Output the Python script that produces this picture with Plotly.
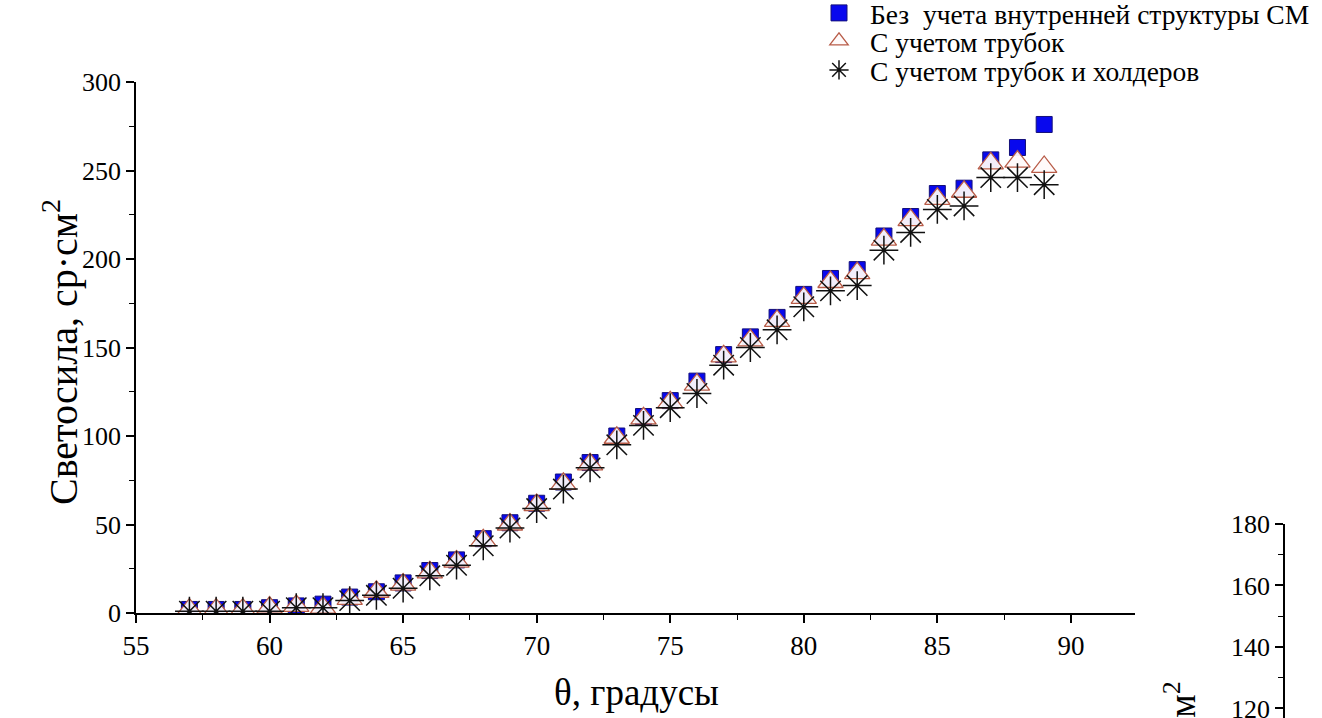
import plotly.graph_objects as go

theta = [57, 58, 59, 60, 61, 62, 63, 64, 65, 66, 67, 68, 69, 70, 71, 72, 73,
         74, 75, 76, 77, 78, 79, 80, 81, 82, 83, 84, 85, 86, 87, 88, 89]

no_structure = [2, 2, 2, 3, 4, 5, 9, 12, 17, 24, 30, 42, 51, 62, 74, 85, 100,
                111, 120, 131, 146, 156, 167, 180, 189, 194, 213, 224, 237, 240, 256, 263, 276]

with_tubes = [2, 2, 2, 3, 4, 3, 8, 12, 16, 23, 29, 41, 50, 61, 73, 84, 99,
              110, 119, 129, 145, 154, 165, 178, 187, 192, 211, 222, 234, 238, 254, 255, 252]

with_tubes_holders = [1, 1, 1, 1, 3, 3, 7, 10, 14, 21, 27, 38, 48, 59, 70, 82, 95,
                      106, 116, 124, 140, 150, 160, 173, 182, 185, 205, 215, 228, 230, 246, 246, 242]

names = ["Без  учета внутренней структуры СМ", "С учетом трубок", "С учетом трубок и холдеров"]

x_ticks = [55, 60, 65, 70, 75, 80, 85, 90]
y_ticks = [0, 50, 100, 150, 200, 250, 300]
y2_ticks = [120, 140, 160, 180]

FONT = "Liberation Serif, Times New Roman, serif"
W, H = 1322, 718

fig = go.Figure()
fig.add_trace(go.Scatter(
    x=theta, y=no_structure, mode="markers", name=names[0], legend="legend",
    marker=dict(symbol="square", size=16, color="#0808ee", line=dict(color="#14107a", width=1)),
))
fig.add_trace(go.Scatter(
    x=theta, y=with_tubes, mode="markers", name=names[1], legend="legend2",
    marker=dict(symbol="triangle-up", size=22, color="rgba(255,250,250,0.95)",
                line=dict(color="#b85c48", width=1.3)),
))
fig.add_trace(go.Scatter(
    x=theta, y=with_tubes_holders, mode="markers", name=names[2], legend="legend3",
    marker=dict(symbol="asterisk-open", size=24, color="#111111", line=dict(color="#111111", width=1.5)),
))
# second (cropped) chart axis
fig.add_trace(go.Scatter(x=[], y=[], xaxis="x2", yaxis="y2", showlegend=False, hoverinfo="skip"))

tickfont = dict(family=FONT, size=26, color="black")


def leg(row_y):
    return dict(
        x=808 / W, y=(H - row_y) / H, xanchor="left", yanchor="middle",
        font=dict(family=FONT, size=27.5, color="black"),
        bgcolor="rgba(0,0,0,0)", itemsizing="trace", itemwidth=52,
    )


common_axis = dict(
    ticks="outside", ticklen=8, tickwidth=1.5, tickcolor="black",
    showline=True, linecolor="black", linewidth=1.5, showgrid=False, zeroline=False,
    automargin=False, ticklabeloverflow="allow",
)

fig.update_layout(
    width=W, height=H,
    margin=dict(l=0, r=0, t=0, b=0, autoexpand=False),
    paper_bgcolor="white", plot_bgcolor="white",
    font=dict(family=FONT, color="black"),
    showlegend=True,
    xaxis=dict(
        domain=[136 / W, 1135 / W], range=[55, 92.4], anchor="y", tickvals=x_ticks,
        minor=dict(dtick=2.5, tick0=55, ticks="outside", ticklen=5, tickwidth=1.2, tickcolor="black"),
        tickfont=dict(family=FONT, size=27, color="black"), **common_axis,
    ),
    yaxis=dict(
        domain=[105 / H, 636 / H], range=[0, 300], anchor="x", tickvals=y_ticks,
        minor=dict(dtick=25, tick0=0, ticks="outside", ticklen=5, tickwidth=1.2, tickcolor="black"),
        tickfont=tickfont, **common_axis,
    ),
    xaxis2=dict(domain=[1285 / W, 1.0], anchor="y2", visible=False, range=[0, 1]),
    yaxis2=dict(
        domain=[0, 194 / H], range=[116.9, 180], anchor="x2", side="left", tickvals=y2_ticks,
        minor=dict(dtick=10, tick0=120, ticks="outside", ticklen=5, tickwidth=1.2, tickcolor="black"),
        tickfont=tickfont, **common_axis,
    ),
    legend=leg(13),
    legend2=leg(41),
    legend3=leg(70),
    annotations=[
        dict(text="Светосила, ср·см<sup>2</sup>", textangle=-90, xref="paper", yref="paper",
             x=60 / W, y=(H - 352) / H, xanchor="center", yanchor="middle", showarrow=False,
             font=dict(family=FONT, size=40, color="black")),
        dict(text="θ, градусы", xref="paper", yref="paper",
             x=636 / W, y=(H - 692) / H, xanchor="center", yanchor="middle", showarrow=False,
             font=dict(family=FONT, size=37, color="black")),
        dict(text="Светосила, ср·см<sup>2</sup>", textangle=-90, xref="paper", yref="paper",
             x=1180 / W, y=(H - 680) / H, xanchor="center", yanchor="top", showarrow=False,
             font=dict(family=FONT, size=37, color="black")),
    ],
)

fig.write_html("out.html")
